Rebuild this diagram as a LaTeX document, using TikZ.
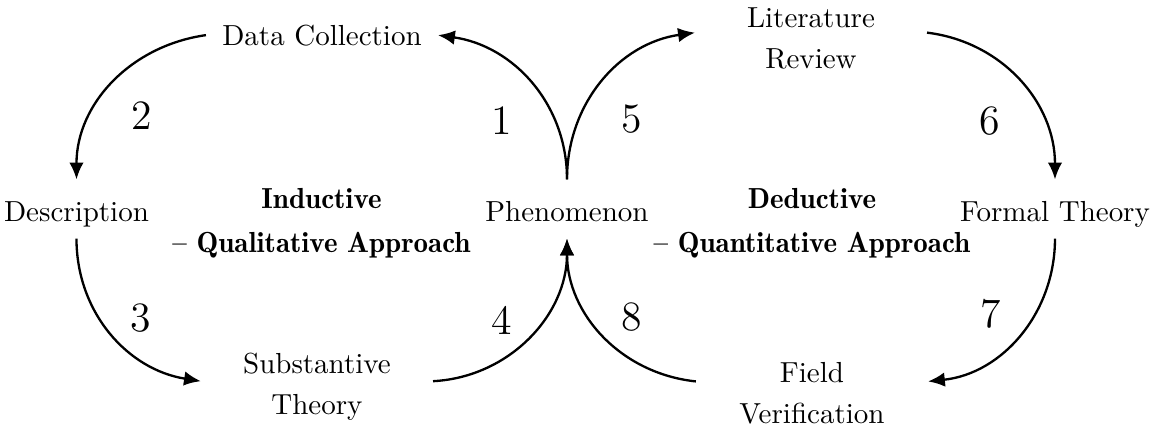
\documentclass[tikz,border=0pt]{standalone}
\usepackage{fontspec}
\usetikzlibrary{arrows.meta}
\newfontfamily\demifont{lmromandemi10-regular.otf}

\begin{document}
\begin{tikzpicture}[
  >=Latex,
  stage/.style={minimum width=2.8cm, inner sep=0pt, align=center},
  hub/.style={inner sep=3.3pt, text height=11.2pt, text depth=2.2pt},
  mode/.style={font=\demifont, align=center},
  num/.style={font=\Large},
  flow/.style={-{Latex[length=5.8pt,width=5pt]}, line width=0.8pt},
]
\useasboundingbox (0,0) rectangle (13.964,5.188);
% the three hubs of the cycle
\node[hub, anchor=base] (de) at (0.927,2.497) {Description};
\node[hub, anchor=base] (ph) at (6.873,2.497) {Phenomenon};
\node[hub, anchor=base] (ft) at (12.788,2.497) {Formal Theory};
% stages above and below
\node[stage, anchor=base] (dc) at (3.903,4.642) {Data Collection};
\node[stage] (st) at (3.842,0.497) {Substantive\\[2pt]Theory};
\node[stage] (lr) at (9.830,4.722) {Literature\\[2pt]Review};
\node[stage] (fv) at (9.842,0.424) {Field\\[2pt]Verification};
% approaches
\node[mode] (ind) at (3.897,2.485) {Inductive\\[3.2pt]– Qualitative Approach};
\node[mode] (ded) at (9.842,2.485) {Deductive\\[3.2pt]– Quantitative Approach};
% inductive loop
\draw[flow] (ph.north) to[out=90,in=-8] (dc.east);
\draw[flow] (dc.west) to[out=188,in=90] (de.north);
\draw[flow] (de.south) to[out=-90,in=171] ([yshift=2pt]st.west);
\draw[flow] ([yshift=2pt]st.east) to[out=3,in=-90] (ph.south);
% deductive loop
\draw[flow] (ph.north) to[out=90,in=188] ([yshift=2pt]lr.west);
\draw[flow] ([yshift=2pt]lr.east) to[out=-7,in=90] (ft.north);
\draw[flow] (ft.south) to[out=-90,in=6] ([yshift=4pt]fv.east);
\draw[flow] ([yshift=4pt]fv.west) to[out=174,in=-90] (ph.south);
% step numbers
\node[num] (n1) at (6.085,3.721) {1};
\node[num] (n2) at (1.721,3.782) {2};
\node[num] (n3) at (1.709,1.333) {3};
\node[num] (n4) at (6.085,1.309) {4};
\node[num] (n5) at (7.661,3.745) {5};
\node[num] (n6) at (12.000,3.721) {6};
\node[num] (n7) at (12.012,1.382) {7};
\node[num] (n8) at (7.661,1.345) {8};
\end{tikzpicture}
\end{document}
